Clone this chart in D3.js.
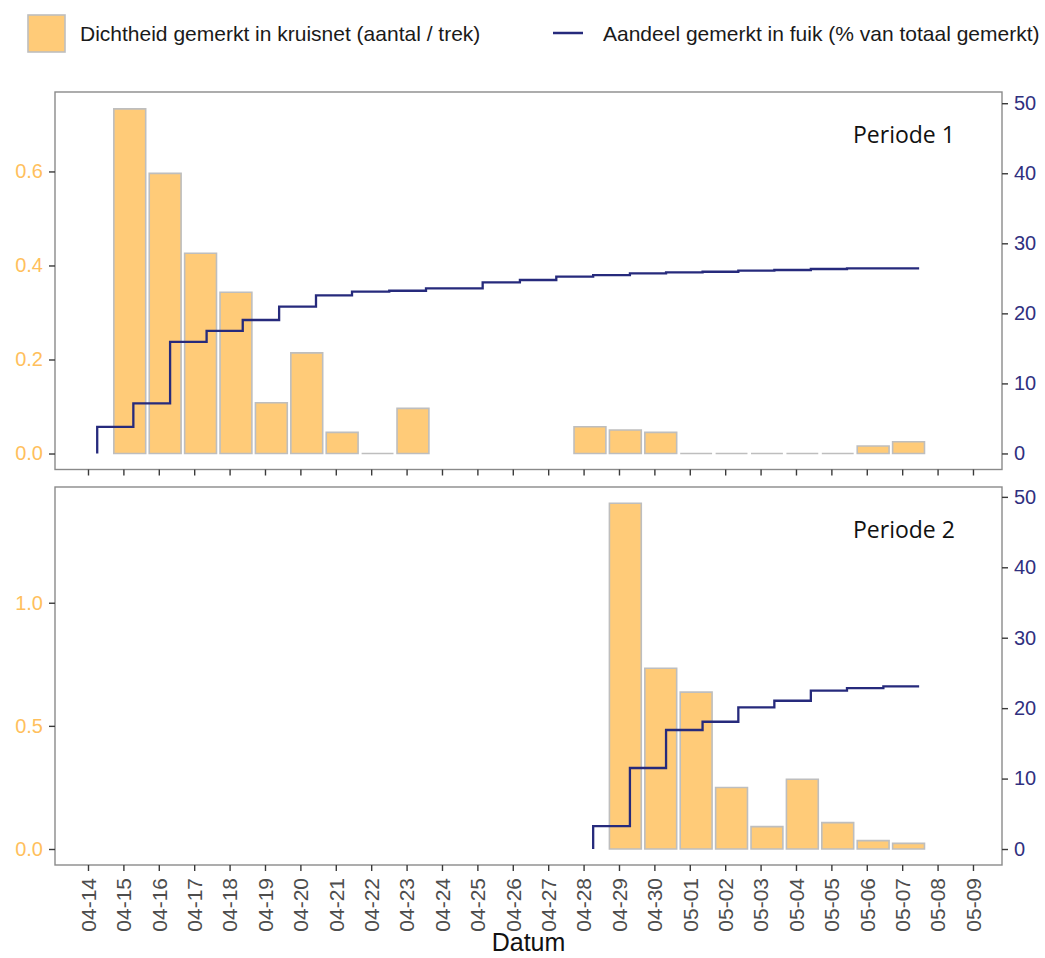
<!DOCTYPE html>
<html>
<head>
<meta charset="utf-8">
<script src="https://cdn.jsdelivr.net/npm/d3@7"></script>
<style>
  body { margin: 0; background: #fff; }
  svg { display: block; font-family: "Liberation Sans", Arial, sans-serif; }
</style>
</head>
<body>
<svg id="chart" width="1045" height="958"></svg>
<script>
// assumed year, the chart only shows month-day
const year = 2021;

const tickLabels = ["04-14","04-15","04-16","04-17","04-18","04-19","04-20","04-21","04-22",
  "04-23","04-24","04-25","04-26","04-27","04-28","04-29","04-30","05-01","05-02","05-03",
  "05-04","05-05","05-06","05-07","05-08","05-09"];

// Periode 1: density tagged in kruisnet (count / haul)
const p1BarDates = ["04-15","04-16","04-17","04-18","04-19","04-20","04-21","04-22","04-23",
  "04-28","04-29","04-30","05-01","05-02","05-03","05-04","05-05","05-06","05-07"];
const p1Density = [0.733, 0.596, 0.426, 0.343, 0.108, 0.214, 0.045, 0, 0.096,
  0.057, 0.050, 0.045, 0, 0, 0, 0, 0, 0.016, 0.025];

// Periode 1: cumulative share tagged in fuik (%)
const p1ShareTimes = ["04-14 06:15","04-15 06:45","04-16 07:40","04-17 08:25","04-18 08:55",
  "04-19 09:35","04-20 10:35","04-21 11:00","04-22 12:15","04-23 13:10","04-25 03:35",
  "04-26 04:50","04-27 05:30","04-28 06:30","04-29 07:25","04-30 07:55","05-01 08:40",
  "05-02 08:55","05-03 09:20","05-04 10:05","05-05 10:35","05-07 11:30"];
const p1Share = [0, 3.8, 7.14, 15.94, 17.5, 19.05, 20.95, 22.57, 23.09, 23.23, 23.57,
  24.43, 24.76, 25.23, 25.47, 25.71, 25.86, 25.94, 26.09, 26.19, 26.33, 26.43];

// Periode 2
const p2BarDates = ["04-29","04-30","05-01","05-02","05-03","05-04","05-05","05-06","05-07"];
const p2Density = [1.404, 0.734, 0.637, 0.25, 0.091, 0.283, 0.107, 0.034, 0.023];

const p2ShareTimes = ["04-28 06:30","04-29 07:25","04-30 07:55","05-01 08:40","05-02 08:55",
  "05-03 09:20","05-04 10:05","05-05 10:35","05-06 11:15","05-07 11:30"];
const p2Share = [0, 3.26, 11.5, 16.9, 18.07, 20.1, 21.05, 22.5, 22.85, 23.09];

const legendLabels = ["Dichtheid gemerkt in kruisnet (aantal / trek)",
  "Aandeel gemerkt in fuik (% van totaal gemerkt)"];

// colours
const barFill = "#FFCB78";
const barStroke = "#BEBEBE";
const lineColor = "#262A7C";
const orangeText = "#FFBF5C";
const navyText = "#30307F";
const greyText = "#4D4D4D";
const borderColor = "#8A8A8A";
const tickColor = "#3A3A3A";

const DAY = 864e5;
const parseDay = d3.utcParse("%Y-%m-%d");
const parseTime = d3.utcParse("%Y-%m-%d %H:%M");
const day = s => parseDay(`${year}-${s}`);
const time = s => parseTime(`${year}-${s}`);

const barShift = 0.18 * DAY;   // bars sit a little right of the tick
const barHalf = 0.45 * DAY;

const plotLeft = 55, plotRight = 1002;

const svg = d3.select("#chart");

const x = d3.scaleUtc()
  .domain([new Date(day("04-14").getTime() - 0.932 * DAY),
           new Date(day("04-14").getTime() + 25.82 * DAY)])
  .range([plotLeft, plotRight]);

const panels = [
  { name: "Periode 1", top: 92, bottom: 469.5,
    barDates: p1BarDates, density: p1Density, times: p1ShareTimes, share: p1Share,
    leftDomain: [-0.034, 0.769], leftTicks: [0, 0.2, 0.4, 0.6], rightDomain: [-2.29, 51.6] },
  { name: "Periode 2", top: 487, bottom: 865,
    barDates: p2BarDates, density: p2Density, times: p2ShareTimes, share: p2Share,
    leftDomain: [-0.065, 1.47], leftTicks: [0, 0.5, 1.0], rightDomain: [-2.27, 51.4] }
];

panels.forEach((p, i) => {
  const yL = d3.scaleLinear().domain(p.leftDomain).range([p.bottom, p.top]);
  const yR = d3.scaleLinear().domain(p.rightDomain).range([p.bottom, p.top]);
  const g = svg.append("g");

  //bars
  const bars = p.barDates.map((d, k) => ({ date: day(d), value: p.density[k] }));
  g.selectAll(".bar")
    .data(bars)
    .enter()
    .append("path")
    .attr("class", "bar")
    .attr("d", d => {
      const x0 = x(new Date(d.date.getTime() + barShift - barHalf));
      const x1 = x(new Date(d.date.getTime() + barShift + barHalf));
      const y0 = yL(0), y1 = yL(d.value);
      return `M${x0},${y0}V${y1}H${x1}V${y0}Z`;
    })
    .style("fill", barFill)
    .style("stroke", barStroke)
    .style("stroke-width", 1.6);

  //step line
  const pts = p.times.map((t, k) => ({ t: time(t), v: p.share[k] }));
  const line = d3.line()
    .x(d => x(d.t))
    .y(d => yR(d.v))
    .curve(d3.curveStepBefore);

  g.append("path")
    .datum(pts)
    .attr("d", line)
    .style("fill", "none")
    .style("stroke", lineColor)
    .style("stroke-width", 2.3);

  //border
  g.append("rect")
    .attr("x", plotLeft)
    .attr("y", p.top)
    .attr("width", plotRight - plotLeft)
    .attr("height", p.bottom - p.top)
    .style("fill", "none")
    .style("stroke", borderColor)
    .style("stroke-width", 1.4);

  //left axis
  const left = g.append("g")
    .attr("transform", `translate(${plotLeft},0)`)
    .call(d3.axisLeft(yL).tickValues(p.leftTicks).tickFormat(d3.format(".1f"))
      .tickSize(6).tickPadding(6));
  left.select(".domain").remove();
  left.selectAll(".tick line").style("stroke", tickColor).style("stroke-width", 1.4);
  left.selectAll(".tick text")
    .style("fill", orangeText)
    .style("font-size", "20px")
    .style("font-family", "'Liberation Sans', Arial, sans-serif");

  //right axis
  const right = g.append("g")
    .attr("transform", `translate(${plotRight},0)`)
    .call(d3.axisRight(yR).tickValues([0, 10, 20, 30, 40, 50]).tickSize(6).tickPadding(6));
  right.select(".domain").remove();
  right.selectAll(".tick line").style("stroke", tickColor).style("stroke-width", 1.4);
  right.selectAll(".tick text")
    .style("fill", navyText)
    .style("font-size", "20px")
    .style("font-family", "'Liberation Sans', Arial, sans-serif");

  //bottom ticks
  const bottom = g.append("g")
    .attr("transform", `translate(0,${p.bottom})`)
    .call(d3.axisBottom(x).tickValues(tickLabels.map(day))
      .tickFormat(d3.utcFormat("%m-%d")).tickSize(6));
  bottom.select(".domain").remove();
  bottom.selectAll(".tick line").style("stroke", tickColor).style("stroke-width", 1.4);
  if (i === panels.length - 1) {
    bottom.selectAll(".tick text")
      .attr("transform", "rotate(-90)")
      .attr("x", -13)
      .attr("y", 0)
      .attr("dy", "0.35em")
      .style("text-anchor", "end")
      .style("fill", greyText)
      .style("font-size", "21px")
      .style("font-family", "'Liberation Sans', Arial, sans-serif");
  } else {
    bottom.selectAll(".tick text").remove();
  }

  //panel label
  g.append("text")
    .attr("x", 853)
    .attr("y", p.top + 51)
    .text(p.name)
    .style("font-family", "'Open Sans', 'Noto Sans', sans-serif")
    .style("font-size", "23px")
    .style("fill", "#111");
});

//x title
svg.append("text")
  .attr("x", (plotLeft + plotRight) / 2)
  .attr("y", 951)
  .attr("text-anchor", "middle")
  .text("Datum")
  .style("font-size", "25px")
  .style("fill", "#111");

//legend
const legend = svg.append("g");
legend.append("rect")
  .attr("x", 28).attr("y", 15)
  .attr("width", 37).attr("height", 37)
  .style("fill", barFill)
  .style("stroke", barStroke)
  .style("stroke-width", 1.6);
legend.append("text")
  .attr("x", 80).attr("y", 41)
  .text(legendLabels[0])
  .style("font-size", "21px")
  .style("fill", "#1a1a1a");
legend.append("line")
  .attr("x1", 553).attr("x2", 583)
  .attr("y1", 33).attr("y2", 33)
  .style("stroke", lineColor)
  .style("stroke-width", 2.5);
legend.append("text")
  .attr("x", 603).attr("y", 41)
  .text(legendLabels[1])
  .style("font-size", "21px")
  .style("fill", "#1a1a1a");
</script>
</body>
</html>
